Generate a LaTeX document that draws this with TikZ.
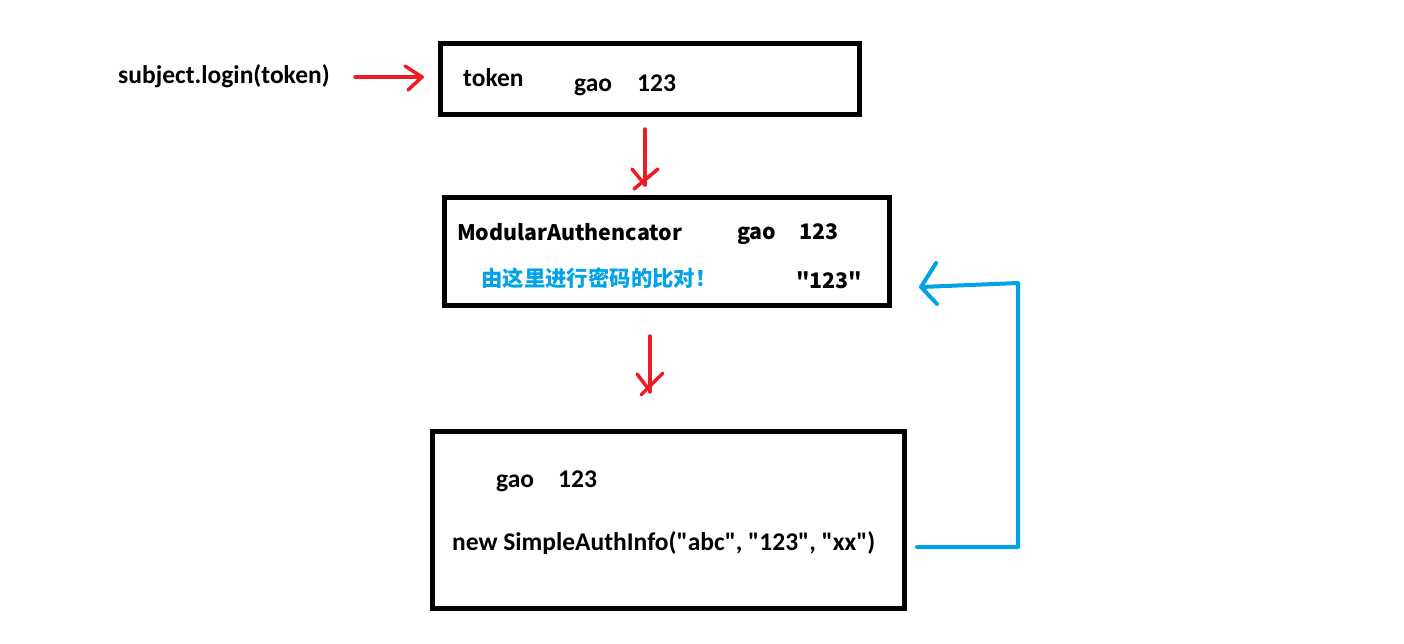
\documentclass[tikz,border=0pt]{standalone}
\usepackage{fontspec}
\setmainfont{Carlito}
\newfontfamily\cjk{Noto Sans CJK SC}
\definecolor{redpen}{RGB}{237,28,36}
\definecolor{bluepen}{RGB}{0,162,232}
\newcommand{\qq}{\textquotedbl}
\begin{document}
\begin{tikzpicture}[x=1pt,y=-1pt,
  box/.style={draw=black,line width=5pt},
  lbl/.style={anchor=west,inner sep=0pt,font=\fontsize{25.5}{28}\selectfont\bfseries},
  clbl/.style={anchor=west,inner sep=0pt,font=\fontsize{21.4}{24}\selectfont\cjk\bfseries},
  redarrow/.style={draw=redpen,line width=3.5pt,line cap=round,line join=round},
  bluearrow/.style={draw=bluepen,line width=4pt,line cap=round,line join=round}]
\useasboundingbox (0,0) rectangle (1404,643);
% boxes
\draw[box] (440.5,43.5) rectangle (859.5,114.5);
\draw[box] (444.5,197.5) rectangle (889.5,305.5);
\draw[box] (432,431) rectangle (904,608);
% texts
\node[lbl] (call) at (118,76) {subject.login(token)};
\node[lbl] (tok) at (463,78) {token};
\node[lbl] (g1) at (574,85) {gao\hspace{25pt}123};
\node[clbl] (mod) at (457,232) {ModularAuthencator};
\node[clbl] (g2) at (737,234) {gao\hspace{23pt}123};
\node[clbl,text=bluepen] (cmp) at (481,278) {由这里进行密码的比对！};
\node[clbl] (q) at (796,280) {\qq 123\qq};
\node[lbl] (g3) at (496,481) {gao\hspace{24pt}123};
\node[lbl] (info) at (452,543) {new SimpleAuthInfo(\qq abc\qq, \qq 123\qq, \qq xx\qq)};
% red arrows
\draw[redarrow] (355,77) -- (422,77);
\draw[redarrow] (405,66) -- (422,77) -- (408,90);
\draw[redarrow] (645,129) -- (645,185);
\draw[redarrow] (632,169) -- (645,185);
\draw[redarrow] (658,169) -- (634,189);
\draw[redarrow] (650,336) -- (650,392);
\draw[redarrow] (637,374) -- (650,391);
\draw[redarrow] (663,373) -- (641,395);
% blue return arrow
\draw[bluearrow] (917,547) -- (1018,547) -- (1018,283) -- (921,287);
\draw[bluearrow] (936,263) -- (921,287) -- (937,304);
\end{tikzpicture}
\end{document}
